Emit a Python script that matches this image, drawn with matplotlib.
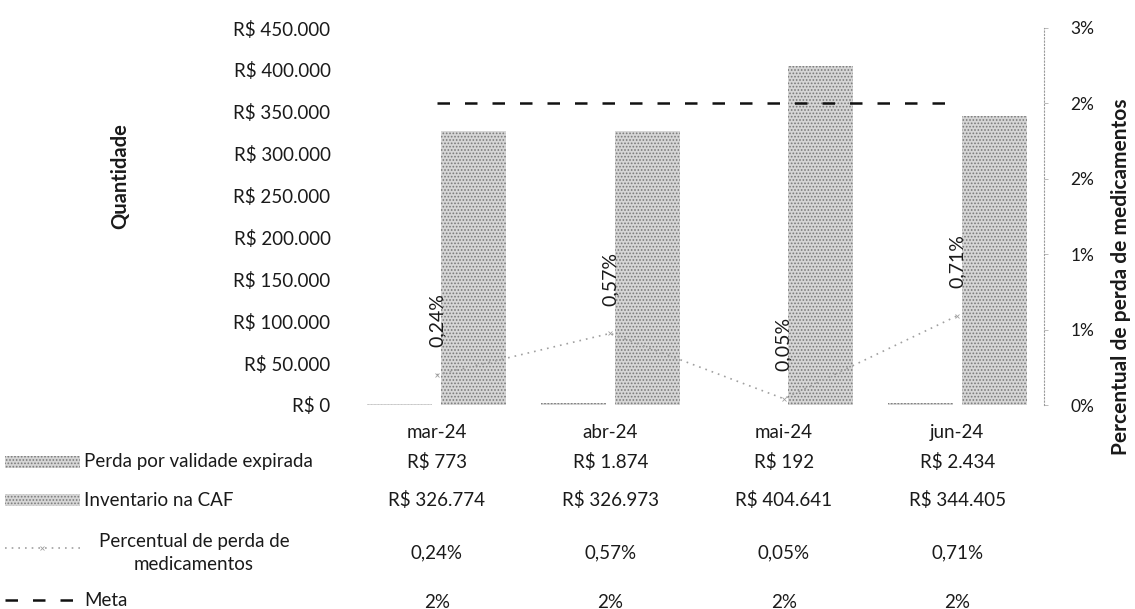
import numpy as np
import matplotlib
matplotlib.use('Agg')
import matplotlib.pyplot as plt
from matplotlib.patches import Rectangle
from matplotlib.lines import Line2D
from matplotlib.transforms import blended_transform_factory

plt.rcParams['font.family'] = ['Lato', 'DejaVu Sans']
plt.rcParams['hatch.color'] = '#7a7a7a'
plt.rcParams['hatch.linewidth'] = 0.8

months = ['mar-24', 'abr-24', 'mai-24', 'jun-24']
perda = [773, 1874, 192, 2434]
inventario = [326774, 326973, 404641, 344405]
percentual = [0.0024, 0.0057, 0.0005, 0.0071]
meta = [0.024, 0.024, 0.024, 0.024]

W, H = 1135, 609
TXT = '#1a1a1a'
FS = 13.5
BAR = '#d6d6d6'


def brl(v):
    return f"R$ {v:,.0f}".replace(",", ".")


def pct(v, d=2):
    return f"{v * 100:.{d}f}%".replace(".", ",")


fig = plt.figure(figsize=(W / 100, H / 100), dpi=100)
ax = fig.add_axes([350 / W, 1 - 405 / H, (1044 - 350) / W, (405 - 28) / H])
x = np.arange(len(months))

bar_w = 0.375
off = 0.213
ax.bar(x - off, perda, width=bar_w, color=BAR, hatch='.....', edgecolor='#7a7a7a', linewidth=0)
ax.bar(x + off, inventario, width=bar_w, color=BAR, hatch='.....', edgecolor='#7a7a7a', linewidth=0)
ax.set_xlim(-0.5, 3.5)
ax.set_ylim(0, 450000)
ax.set_yticks(np.arange(0, 450001, 50000))
ax.set_yticklabels([brl(v) for v in np.arange(0, 450001, 50000)], fontsize=FS, color=TXT)
ax.tick_params(axis='y', length=0, pad=14)
ax.set_xticks(x)
ax.set_xticklabels(months, fontsize=FS, color=TXT)
ax.tick_params(axis='x', length=0, pad=14)
for s in ax.spines.values():
    s.set_visible(False)

ax2 = ax.twinx()
ax2.set_ylim(0, 0.03)
rt = np.arange(0, 0.0301, 0.006)
ax2.set_yticks(rt)
ax2.set_yticklabels([f"{v * 100:.0f}%" for v in rt], fontsize=FS - 1, color=TXT)
ax2.tick_params(axis='y', length=3, width=0.6, color='#b0b0b0', pad=16)
for s in ['left', 'top', 'bottom']:
    ax2.spines[s].set_visible(False)
ax2.spines['right'].set_linestyle((0, (1, 2)))
ax2.spines['right'].set_color('#9a9a9a')
ax2.spines['right'].set_linewidth(0.8)

ax2.plot(x, percentual, linestyle=(0, (1, 3)), color='#a0a0a0', linewidth=1.2,
         marker='x', markersize=3, markeredgewidth=0.6)
ax2.plot(x, meta, color='#111111', linewidth=1.8, dashes=(5, 6))
for i, p in enumerate(percentual):
    ax2.annotate(pct(p), (i, p), xytext=(0, 20), textcoords='offset points',
                 rotation=90, ha='center', va='bottom', fontsize=FS + 0.5, color=TXT)

# axis titles
fig.text(120 / W, 1 - 176 / H, 'Quantidade', rotation=90, ha='center', va='center',
         fontsize=14.5, fontweight='bold', color=TXT)
fig.text(1121 / W, 1 - 277 / H, 'Percentual de perda de medicamentos', rotation=90,
         ha='center', va='center', fontsize=15, fontweight='bold', color=TXT)

# data table below the chart
tr = blended_transform_factory(ax.transData, fig.transFigure)
rows = [
    (462, [brl(v) for v in perda]),
    (500, [brl(v) for v in inventario]),
    (553, [pct(v) for v in percentual]),
    (602, [pct(v, 0) for v in meta]),
]
for y_px, vals in rows:
    for i, t in enumerate(vals):
        ax.text(i, 1 - y_px / H, t, transform=tr, ha='center', va='center',
                fontsize=FS, color=TXT, clip_on=False)

# legend keys of the table
for y_px in [462, 500]:
    fig.patches.append(Rectangle((5 / W, 1 - (y_px + 6) / H), 75 / W, 12 / H,
                                 transform=fig.transFigure, facecolor=BAR,
                                 hatch='.....', edgecolor='#7a7a7a', linewidth=0))
fig.lines.append(Line2D([5 / W, 80 / W], [1 - 548 / H, 1 - 548 / H], transform=fig.transFigure,
                        linestyle=(0, (1, 3)), color='#a0a0a0', linewidth=1.2))
fig.lines.append(Line2D([42 / W], [1 - 548 / H], transform=fig.transFigure, marker='x',
                        markersize=3, markeredgewidth=0.6, color='#a0a0a0'))
fig.lines.append(Line2D([5 / W, 80 / W], [1 - 600 / H, 1 - 600 / H], transform=fig.transFigure,
                        color='#111111', linewidth=1.8, dashes=(5, 6)))
fig.text(84 / W, 1 - 462 / H, 'Perda por validade expirada', ha='left', va='center', fontsize=FS, color=TXT)
fig.text(84 / W, 1 - 500 / H, 'Inventario na CAF', ha='left', va='center', fontsize=FS, color=TXT)
fig.text(194 / W, 1 - 553 / H, 'Percentual de perda de\nmedicamentos', ha='center', va='center',
         multialignment='center', fontsize=FS, color=TXT, linespacing=1.45)
fig.text(84 / W, 1 - 600 / H, 'Meta', ha='left', va='center', fontsize=FS, color=TXT)

fig.savefig('out.png', dpi=100)
